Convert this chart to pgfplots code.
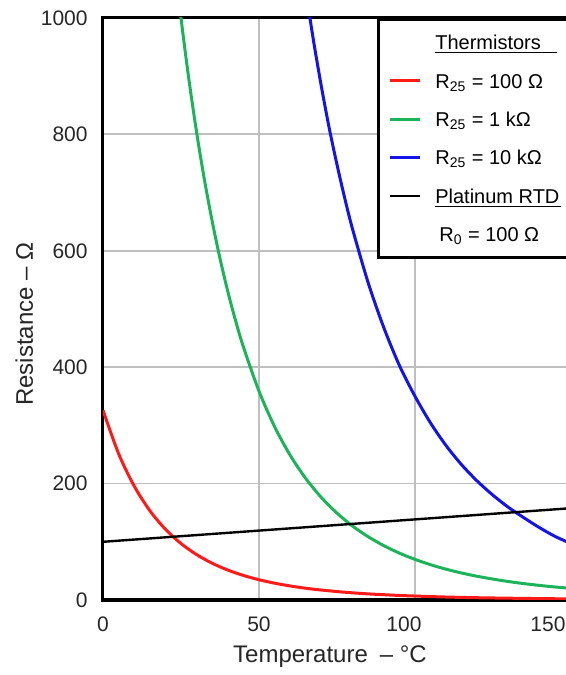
\documentclass[border=0pt]{standalone}
\usepackage{fontspec}
\setmainfont{Liberation Sans}
\usepackage{pgfplots}
\pgfplotsset{compat=1.18}
\definecolor{thred}{HTML}{FF1A1A}
\definecolor{thgreen}{HTML}{1DB35A}
\definecolor{thblue}{HTML}{1414E6}

\begin{document}
\begin{tikzpicture}
\begin{axis}[
  name=ax, scale only axis, width=234pt, height=291pt,
  xmin=0, xmax=150, ymin=0, ymax=1000,
  xtick={0,50,100,150},
  xticklabels={0,50,\hspace*{-11pt}100,\hspace*{-23pt}150},
  ytick={0,200,400,600,800,1000},
  yticklabels={0,200,400,600,800,1000},
  tick style={draw=none},
  ticklabel style={font=\fontsize{10.5}{12}\selectfont, inner sep=0pt, text=black!85},
  xticklabel style={anchor=north, yshift=-8pt},
  yticklabel style={anchor=east, xshift=-7.5pt},
  grid=major, grid style={gray!50, line width=0.9pt},
  axis line style={line width=1.5pt},
  xlabel={Temperature\hspace{6pt}– °C},
  ylabel={Resistance – Ω},
  label style={font=\fontsize{12}{14}\selectfont, text=black!85},
  xlabel style={at={(axis description cs:0.485,-0.1082)}, anchor=base},
  ylabel style={at={(axis description cs:-0.1496,0.474)}, anchor=base},
  legend image code/.code={\draw[#1] (0pt,0pt) -- (15pt,0pt);},
  legend cell align=left,
  legend style={at={(axis description cs:0.5855,1)}, anchor=north west,
    draw=black, line width=1.3pt, fill=white,
    font=\fontsize{10}{12}\selectfont,
    inner xsep=5pt, inner ysep=8pt, row sep=12pt, column sep=7pt,
    nodes={inner sep=0pt, text height=7.2pt, text depth=0pt}},
]
\addlegendimage{empty legend}
\addlegendentry{\underline{Thermistors\hspace{8pt}}}

% R25 = 100 ohm
\addplot[color=thred, line width=1.5pt, smooth] coordinates {
  (0,326.1) (5,251.4) (10,195.7) (15,153.6) (20,121.6) (25,97.0)
  (30,78.0) (35,63.1) (40,51.4) (45,42.2) (50,34.8) (55,28.9)
  (60,24.1) (65,20.2) (70,17.1) (75,14.5) (80,12.3) (85,10.5)
  (90,9.1) (95,7.8) (100,6.8) (110,5.1) (120,3.9) (130,3.1)
  (140,2.4) (150,1.9)};
\addlegendentry{R\textsubscript{25} = 100 Ω}

% R25 = 1 kohm
\addplot[color=thgreen, line width=1.5pt, smooth] coordinates {
  (22.5,1118) (25,1000) (27.5,895.7) (30,803.7) (32.5,722.5) (35,650.6)
  (37.5,586.8) (40,530.1) (42.5,479.8) (45,434.8) (50,358.8) (55,297.8)
  (60,248.6) (65,208.7) (70,176.0) (75,149.2) (80,127.0) (85,108.7)
  (90,93.4) (95,80.5) (100,69.8) (105,60.6) (110,52.9) (115,46.3)
  (120,40.7) (125,35.9) (130,31.7) (135,28.1) (140,25.0) (145,22.3)
  (150,20.0)};
\addlegendentry{R\textsubscript{25} = 1 kΩ}

% R25 = 10 kohm
\addplot[color=thblue, line width=1.5pt, smooth] coordinates {
  (65,1046) (67.5,960) (70,882) (72.5,811) (75,748) (77.5,690)
  (80,637) (85,545) (90,468) (95,403) (100,350) (105,304)
  (110,265) (115,232) (120,204) (125,180) (130,159) (135,141)
  (140,124) (145,109) (150,97)};
\addlegendentry{R\textsubscript{25} = 10 kΩ}

% platinum RTD
\addplot[color=black, line width=1.2pt] coordinates {(0,100) (150,157.75)};
\addlegendentry{\underline{Platinum RTD\hspace{1pt}}\hspace{16pt}}

\addlegendimage{empty legend}
\addlegendentry{\hspace{2pt}R\textsubscript{0} = 100 Ω}
\end{axis}
\pgfresetboundingbox
\path[use as bounding box] ([xshift=-51.5pt,yshift=-37.5pt]ax.south west) rectangle ++(283pt,337.5pt);
\end{tikzpicture}
\end{document}
